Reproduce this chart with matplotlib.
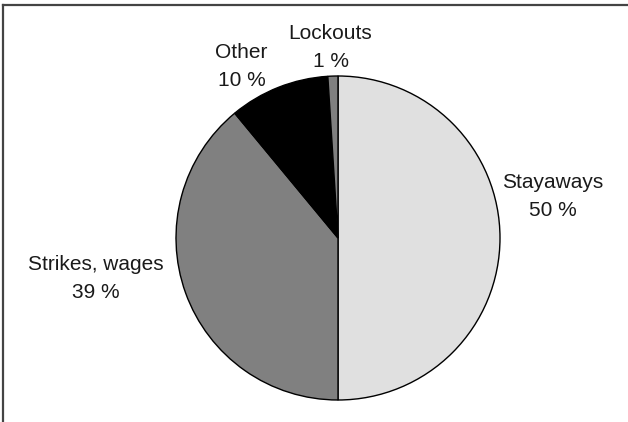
import matplotlib
matplotlib.use("Agg")
import matplotlib.pyplot as plt
from matplotlib.lines import Line2D

plt.rcParams['font.family'] = ['Liberation Sans', 'DejaVu Sans']

# shares of days lost by type
labels = ['Stayaways', 'Strikes, wages', 'Other', 'Lockouts']
shares = [50, 39, 10, 1]
colors = ['#e0e0e0', '#808080', '#000000', '#808080']
# label anchor points, in units of the pie radius
label_xy = [(1.327, 0.256), (-1.494, -0.253), (-0.596, 1.059), (-0.046, 1.173)]

W, H = 628, 422
fig = plt.figure(figsize=(W / 100, H / 100), dpi=100)
fig.patch.set_facecolor('white')

# pie centre and radius in pixels
cx, cy, r = 338, 238, 162
ax = fig.add_axes([(cx - r) / W, (H - cy - r) / H, 2 * r / W, 2 * r / H])
ax.pie(shares, colors=colors, startangle=90, counterclock=False,
       wedgeprops=dict(edgecolor='black', linewidth=1.0))
ax.set_xlim(-1, 1)
ax.set_ylim(-1, 1)
ax.axis('off')

for lab, val, (tx, ty) in zip(labels, shares, label_xy):
    ax.text(tx, ty, f"{lab}\n{val} %", ha='center', va='center',
            fontsize=15, color='#1a1a1a', linespacing=1.6)

# open frame: left and top edges only
fig.add_artist(Line2D([3.5 / W, 3.5 / W], [0, 1 - 4.5 / H], color='#444444', lw=1.6))
fig.add_artist(Line2D([3.5 / W, 1], [1 - 4.5 / H, 1 - 4.5 / H], color='#444444', lw=1.6))

fig.savefig('out.png', dpi=100, facecolor='white')
